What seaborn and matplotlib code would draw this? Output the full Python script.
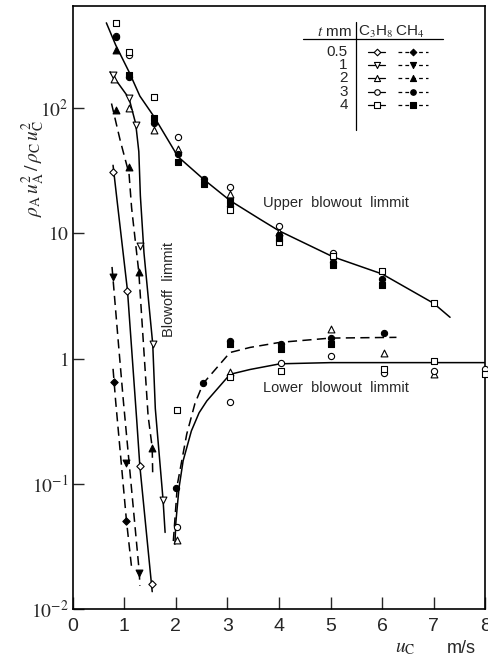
import matplotlib
matplotlib.use('Agg')
import numpy as np
import pandas as pd
import seaborn as sns
import matplotlib.pyplot as plt
from matplotlib.ticker import FixedLocator, FixedFormatter, NullLocator

# measured points, one list pair per (thickness, fuel)
c3h8_05_x = [0.78, 1.06, 1.30, 1.53]
c3h8_05_y = [31, 3.5, 0.139, 0.016]
ch4_05_x = [0.80, 1.04]
ch4_05_y = [0.65, 0.051]
c3h8_1_x = [0.78, 1.09, 1.22, 1.30, 1.55, 1.75]
c3h8_1_y = [184, 120, 73, 8.0, 1.31, 0.075]
ch4_1_x = [0.78, 1.03, 1.29]
ch4_1_y = [4.5, 0.148, 0.0195]
c3h8_2_x = [0.80, 1.09, 1.58, 2.04, 3.05, 4.0, 2.03, 3.05, 5.01, 6.03, 7.0]
c3h8_2_y = [170, 100, 67, 47, 20.5, 10.3, 0.036, 0.78, 1.73, 1.1, 0.76]
ch4_2_x = [0.83, 0.83, 1.09, 1.28, 1.54]
ch4_2_y = [96, 291, 34, 4.9, 0.195]
c3h8_3_x = [0.83, 1.09, 2.04, 3.05, 4.0, 5.04, 2.03, 3.05, 4.04, 5.01, 6.03, 7.0, 8.0]
c3h8_3_y = [377, 265, 59, 23.5, 11.5, 7.0, 0.045, 0.45, 0.92, 1.06, 0.77, 0.80, 0.83]
ch4_3_x = [0.83, 1.09, 1.58, 2.04, 2.54, 3.05, 4.0, 5.04, 6.0,
           2.01, 2.53, 3.05, 4.04, 5.01, 6.03]
ch4_3_y = [370, 178, 76, 43, 27, 16.5, 9.8, 5.9, 4.3,
           0.092, 0.635, 1.38, 1.32, 1.45, 1.6]
c3h8_4_x = [0.83, 1.09, 1.58, 3.05, 4.0, 5.04, 6.0, 7.0, 2.03, 3.05, 4.04, 6.03, 7.0, 8.0]
c3h8_4_y = [477, 280, 122, 15.5, 8.5, 6.6, 5.0, 2.77, 0.39, 0.71, 0.79, 0.83, 0.96, 0.76]
ch4_4_x = [1.09, 1.58, 2.04, 2.54, 3.05, 4.0, 5.04, 6.0, 3.05, 4.04, 5.01]
ch4_4_y = [184, 83, 37, 25, 18, 9.2, 5.6, 3.9, 1.31, 1.2, 1.32]

# hand drawn limit curves
upper_x = [0.65, 0.83, 1.09, 1.3, 1.58, 2.04, 2.54, 3.05, 3.63, 4.0, 5.05, 6.0, 7.0, 7.32]
upper_y = [480, 320, 195, 125, 85, 41, 27, 18.3, 13, 10.5, 6.5, 4.75, 2.77, 2.14]
low_solid_x = [1.98, 2.0, 2.06, 2.14, 2.30, 2.45, 2.6, 3.05, 3.44, 4.02, 5.0, 6.0, 7.0, 8.0]
low_solid_y = [0.033, 0.05, 0.093, 0.153, 0.265, 0.37, 0.46, 0.75, 0.82, 0.91, 0.93, 0.93, 0.93, 0.93]
low_dash_x = [1.95, 2.03, 2.21, 2.37, 2.53, 3.05, 3.44, 4.02, 5.0, 6.28]
low_dash_y = [0.035, 0.1, 0.25, 0.44, 0.635, 1.12, 1.23, 1.35, 1.46, 1.48]
bo_c3h8_05_x = [0.78, 0.86, 1.06, 1.24, 1.30, 1.54]
bo_c3h8_05_y = [35, 18, 3.5, 0.32, 0.139, 0.0138]
bo_c3h8_1_x = [0.72, 1.09, 1.22, 1.28, 1.31, 1.38, 1.45, 1.55, 1.60, 1.75, 1.79]
bo_c3h8_1_y = [195, 120, 75, 45, 20, 7, 3.5, 1.31, 0.40, 0.075, 0.041]
bo_ch4_05_x = [0.78, 0.83, 1.04, 1.14]
bo_ch4_05_y = [0.83, 0.46, 0.051, 0.0215]
bo_ch4_1_x = [0.76, 0.885, 0.98, 1.29, 1.30]
bo_ch4_1_y = [5.4, 1.31, 0.46, 0.0195, 0.0154]
bo_ch4_2_x = [0.75, 0.92, 1.09, 1.14, 1.28, 1.46, 1.54, 1.55]
bo_ch4_2_y = [109, 55, 30, 16, 4.9, 0.35, 0.195, 0.116]

t_labels = ['0.5', '1', '2', '3', '4']
markers = {'0.5': 'D', '1': 'v', '2': '^', '3': 'o', '4': 's'}
msize = {'0.5': 14, '1': 24, '2': 24, '3': 20, '4': 18}

series = {
    ('0.5', 'C3H8'): (c3h8_05_x, c3h8_05_y), ('0.5', 'CH4'): (ch4_05_x, ch4_05_y),
    ('1', 'C3H8'): (c3h8_1_x, c3h8_1_y), ('1', 'CH4'): (ch4_1_x, ch4_1_y),
    ('2', 'C3H8'): (c3h8_2_x, c3h8_2_y), ('2', 'CH4'): (ch4_2_x, ch4_2_y),
    ('3', 'C3H8'): (c3h8_3_x, c3h8_3_y), ('3', 'CH4'): (ch4_3_x, ch4_3_y),
    ('4', 'C3H8'): (c3h8_4_x, c3h8_4_y), ('4', 'CH4'): (ch4_4_x, ch4_4_y),
}
df = pd.concat([pd.DataFrame({'x': xs, 'y': ys, 't': k[0], 'fuel': k[1]})
                for k, (xs, ys) in series.items()], ignore_index=True)

curves = [
    (upper_x, upper_y, '-'), (low_solid_x, low_solid_y, '-'), (low_dash_x, low_dash_y, '--'),
    (bo_c3h8_05_x, bo_c3h8_05_y, '-'), (bo_c3h8_1_x, bo_c3h8_1_y, '-'),
    (bo_ch4_05_x, bo_ch4_05_y, '--'), (bo_ch4_1_x, bo_ch4_1_y, '--'), (bo_ch4_2_x, bo_ch4_2_y, '--'),
]

sns.set_theme(style='ticks')
plt.rcParams['font.family'] = ['Liberation Sans', 'DejaVu Sans']
plt.rcParams['mathtext.fontset'] = 'stix'

fig = plt.figure(figsize=(4.89, 6.6), dpi=100)
ax = fig.add_axes([0.149, 0.077, 0.843, 0.914])
ax.set_yscale('log')

for xs, ys, ls in curves:
    sns.lineplot(x=xs, y=ys, sort=False, estimator=None, color='black', lw=1.1,
                 linestyle=(0, (6, 3.5)) if ls == '--' else '-', ax=ax)

for (t, fuel), g in df.groupby(['t', 'fuel']):
    sns.scatterplot(data=g, x='x', y='y', marker=markers[t], s=msize[t],
                    color='white' if fuel == 'C3H8' else 'black', edgecolor='black',
                    linewidth=0.8, zorder=4, clip_on=False, legend=False, ax=ax)

ax.set_xlim(0, 8)
ax.set_ylim(0.01, 655)
ax.set_xticks(range(9))
ax.yaxis.set_major_locator(FixedLocator([0.01, 0.1, 1, 10, 100]))
ax.yaxis.set_major_formatter(FixedFormatter(['$10^{-2}$', '$10^{-1}$', '$1$', '$10$', '$10^{2}$']))
ax.yaxis.set_minor_locator(NullLocator())
ax.tick_params(axis='x', direction='in', length=9, width=1, labelsize=14, pad=6)
ax.tick_params(axis='y', direction='in', length=8, width=1, labelsize=14, pad=3)
for sp in ax.spines.values():
    sp.set_linewidth(1.2)
    sp.set_color('black')
ax.set_xlabel('')
ax.set_ylabel(r'$\rho_{\rm A}\,u_{\rm A}^2\,/\,\rho_{\rm C}\,u_{\rm C}^2$', fontsize=14)
ax.yaxis.set_label_coords(-0.062, 0.73)
ax.text(0.806, -0.065, r'$u_{\rm C}$', transform=ax.transAxes, fontsize=14, ha='center', va='center')
ax.text(0.943, -0.065, 'm/s', transform=ax.transAxes, fontsize=13, ha='center', va='center')

ax.text(3.69, 17.4, 'Upper  blowout  limmit', fontsize=10.5, va='center', ha='left')
ax.text(3.69, 0.58, 'Lower  blowout  limmit', fontsize=10.5, va='center', ha='left')
ax.text(1.87, 3.6, 'Blowoff  limmit', fontsize=10.5, va='center', ha='center', rotation=90)

# table-like legend in the upper right corner
tr = ax.transAxes
ax.plot([0.558, 0.898], [0.945, 0.945], color='black', lw=0.9, transform=tr)
ax.plot([0.687, 0.687], [0.794, 0.973], color='black', lw=0.9, transform=tr)
ax.text(0.677, 0.957, r'$t$ mm', transform=tr, fontsize=11, ha='right', va='center')
ax.text(0.734, 0.957, r'C$_3$H$_8$', transform=tr, fontsize=11, ha='center', va='center')
ax.text(0.818, 0.957, r'CH$_4$', transform=tr, fontsize=11, ha='center', va='center')
row_y = [0.924, 0.902, 0.881, 0.858, 0.836]
for t, yy in zip(t_labels, row_y):
    ax.text(0.667, yy, t, transform=tr, fontsize=11, ha='right', va='center')
    ax.plot([0.716, 0.757], [yy, yy], color='black', lw=0.9, transform=tr)
    ax.scatter([0.737], [yy], marker=markers[t], s=msize[t] * 0.8, facecolor='white',
               edgecolor='black', linewidth=0.8, transform=tr, zorder=5)
    ax.plot([0.789, 0.862], [yy, yy], color='black', lw=0.9, ls=(0, (3, 2.5)), transform=tr)
    ax.scatter([0.826], [yy], marker=markers[t], s=msize[t] * 0.8, facecolor='black',
               edgecolor='black', linewidth=0.8, transform=tr, zorder=5)

fig.savefig('out.png', dpi=100)
